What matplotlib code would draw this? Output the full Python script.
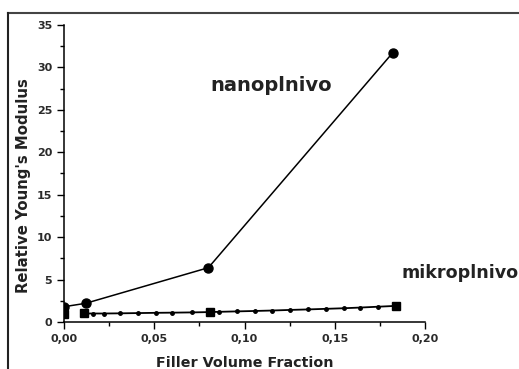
import matplotlib.pyplot as plt
from matplotlib.lines import Line2D
from matplotlib.ticker import MultipleLocator, FuncFormatter

plt.rcParams['font.family'] = ['DejaVu Sans']

# nano filler - measured points
nano_x = [0.0, 0.012, 0.080, 0.182]
nano_y = [1.8, 2.2, 6.4, 31.7]

# micro filler - measured points
mikro_x = [0.0, 0.011, 0.081, 0.184]
mikro_y = [1.0, 1.05, 1.2, 1.9]

# micro filler - model curve (small dots)
fit_x = [0.011, 0.016, 0.022, 0.031, 0.041, 0.051, 0.060, 0.071, 0.081,
         0.086, 0.096, 0.106, 0.115, 0.125, 0.135, 0.145, 0.155, 0.164,
         0.174, 0.184]
fit_y = [1.0, 1.0, 1.0, 1.02, 1.05, 1.08, 1.1, 1.13, 1.17,
         1.2, 1.25, 1.3, 1.35, 1.42, 1.48, 1.55, 1.62, 1.7,
         1.8, 1.9]

fig = plt.figure(figsize=(5.19, 3.69), dpi=100)
ax = fig.add_axes([0.1233, 0.1274, 0.6956, 0.8049])

ax.plot(nano_x, nano_y, color='black', lw=1.1, marker='o', ms=6.5)
ax.plot(fit_x, fit_y, color='black', lw=1.3, marker='o', ms=2.5)
ax.plot(mikro_x, mikro_y, color='black', lw=0, marker='s', ms=6)

ax.set_xlim(0, 0.20)
ax.set_ylim(0, 35)
for s in ['top', 'right']:
    ax.spines[s].set_visible(False)
for s in ['left', 'bottom']:
    ax.spines[s].set_linewidth(1.1)

ax.xaxis.set_major_locator(MultipleLocator(0.05))
ax.xaxis.set_minor_locator(MultipleLocator(0.025))
ax.yaxis.set_major_locator(MultipleLocator(5))
ax.yaxis.set_minor_locator(MultipleLocator(2.5))
ax.xaxis.set_major_formatter(FuncFormatter(lambda v, p: f"{v:.2f}".replace('.', ',')))
ax.tick_params(which='major', direction='out', length=5, width=1, labelsize=8)
ax.tick_params(which='minor', direction='out', length=3, width=1)
for lab in ax.get_xticklabels() + ax.get_yticklabels():
    lab.set_fontweight('bold')
    lab.set_color('#2a2a2a')

ax.set_xlabel('Filler Volume Fraction', fontsize=10.3, fontweight='bold', labelpad=9, color='#222222')
ax.set_ylabel("Relative Young's Modulus", fontsize=10.7, fontweight='bold', labelpad=4, color='#222222')
ax.yaxis.label.set_y(0.458)

ax.text(0.1147, 27.9, 'nanoplnivo', fontsize=14, fontweight='bold', ha='center', va='center',
        color='#222222')
ax.text(0.187, 5.8, 'mikroplnivo', fontsize=12.6, fontweight='bold', ha='left', va='center',
        color='#222222', clip_on=False)

# picture frame (top and left edges)
fig.add_artist(Line2D([8 / 519, 1.0], [1 - 13 / 369, 1 - 13 / 369], color='#444444', lw=1.5))
fig.add_artist(Line2D([8 / 519, 8 / 519], [0.0, 1 - 13 / 369], color='#222222', lw=1.5))

fig.savefig('out.png', dpi=100)
